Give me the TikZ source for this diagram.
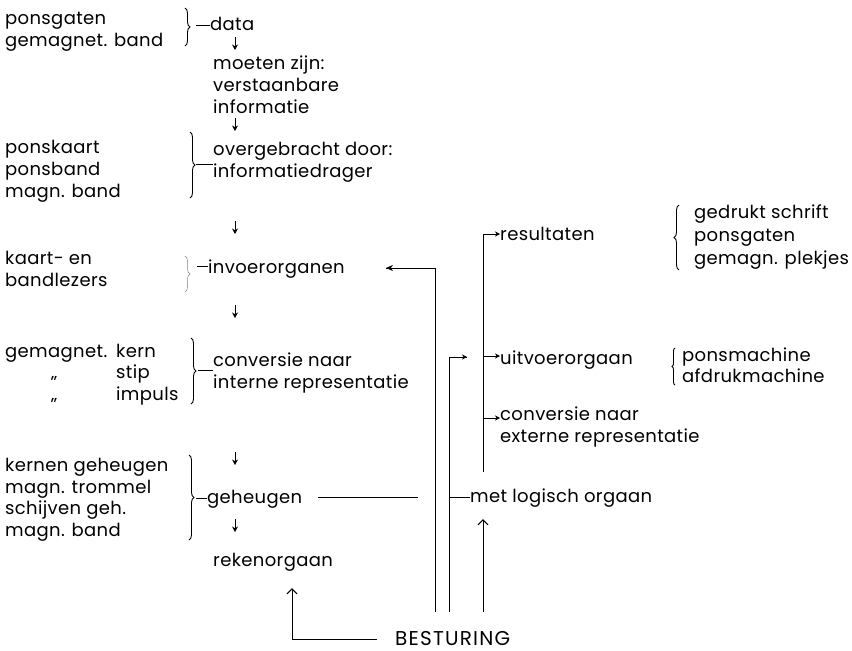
\documentclass[tikz,border=0pt]{standalone}
\usepackage{fontspec}
\setmainfont{Poppins}[LetterSpace=2]
\newfontfamily\capsfont{Poppins}[LetterSpace=6]
\usetikzlibrary{arrows.meta,decorations.pathreplacing}
\begin{document}
\begin{tikzpicture}[x=1pt,y=-1pt,
  txt/.style={anchor=base west, inner sep=0pt, font=\fontsize{18}{22}\selectfont},
  ln/.style={line width=0.6pt},
  dn/.style={line width=0.8pt,-{Stealth[length=5.5pt,width=6pt]}},
  rt/.style={line width=0.7pt,-{Stealth[length=5pt,width=5pt]}},
  lt/.style={line width=0.7pt,-{Stealth[length=7pt,width=6pt]}},
  upar/.style={line width=0.6pt,-{Straight Barb[length=5pt,width=10pt,line width=1.1pt]}},
  br/.style={line width=0.9pt, decorate, decoration={brace,amplitude=5pt}},
  brs/.style={line width=0.9pt, decorate, decoration={brace,amplitude=3pt}},
]
\useasboundingbox[fill=white] (0,0) rectangle (852,651);

% ---------- left column
\node[txt] (l1a) at (5,24) {ponsgaten};
\node[txt] (l1b) at (5,46) {gemagnet. band};
\node[txt] (l2a) at (5,153) {ponskaart};
\node[txt] (l2b) at (5,175) {ponsband};
\node[txt] (l2c) at (5,197) {magn. band};
\node[txt] (l3a) at (5,264) {kaart- en};
\node[txt] (l3b) at (5,286) {bandlezers};
\node[txt] (l4a) at (5,357) {gemagnet.};
\node[txt] (l4k) at (116,357) {kern};
\node[txt] (l4d1) at (51,378) {„};
\node[txt] (l4s) at (116,378) {stip};
\node[txt] (l4d2) at (51,400) {„};
\node[txt] (l4i) at (116,400) {impuls};
\node[txt] (l5a) at (5,471) {kernen geheugen};
\node[txt] (l5b) at (5,493) {magn. trommel};
\node[txt] (l5c) at (5,514) {schijven geh.};
\node[txt] (l5d) at (5,536) {magn. band};

% ---------- middle column
\node[txt] (data) at (210,30) {data};
\node[txt] (m1) at (213,69) {moeten zijn:};
\node[txt] (m2) at (213,91) {verstaanbare};
\node[txt] (m3) at (213,113) {informatie};
\node[txt] (o1) at (213,155) {overgebracht door:};
\node[txt] (o2) at (213,177) {informatiedrager};
\node[txt] (invoer) at (208,273) {invoerorganen};
\node[txt] (c1) at (213,366) {conversie naar};
\node[txt] (c2) at (213,388) {interne representatie};
\node[txt] (geh) at (207,503) {geheugen};
\node[txt] (reken) at (213,566) {rekenorgaan};

% ---------- right column
\node[txt] (res) at (500,240) {resultaten};
\node[txt] (g1) at (694,218) {gedrukt schrift};
\node[txt] (g2) at (694,241) {ponsgaten};
\node[txt] (g3) at (694,264) {gemagn. plekjes};
\node[txt] (uit) at (500,364) {uitvoerorgaan};
\node[txt] (p1) at (682,361) {ponsmachine};
\node[txt] (p2) at (682,382) {afdrukmachine};
\node[txt] (e1) at (500,420) {conversie naar};
\node[txt] (e2) at (500,442) {externe representatie};
\node[txt] (log) at (470,502) {met logisch orgaan};
\node[txt, font=\capsfont\fontsize{20}{22}\selectfont, text depth=0pt] (best) at (395,645) {BESTURING};

% ---------- braces
\draw[br] (185,8) -- (185,46);
\draw[ln] (196,25) -- (data.west |- 0,25);
\draw[br] (190,132) -- (190,198);
\draw[ln] (196,164) -- (o2.west |- 0,164);
\draw[br,line width=0.5pt,gray] (185,256) -- (185,292);
\draw[ln] (197,266) -- (invoer.west |- 0,266);
\draw[br] (191,338) -- (191,404);
\draw[ln] (198,370) -- (c1.west |- 0,370);
\draw[br] (189,455) -- (189,540);
\draw[ln] (196,498) -- (geh.west |- 0,498);
\draw[br] (679,270) -- (679,205);
\draw[brs] (675,385) -- (675,348);

% ---------- down arrows
\coordinate (a1) at (235,37);  \coordinate (a1e) at (235,50);
\coordinate (a2) at (235,118); \coordinate (a2e) at (235,131);
\coordinate (a3) at (235,221); \coordinate (a3e) at (235,234);
\coordinate (a4) at (235,305); \coordinate (a4e) at (235,318);
\coordinate (a5) at (235,452); \coordinate (a5e) at (235,465);
\coordinate (a6) at (235,519); \coordinate (a6e) at (235,532);
\draw[dn] (a1) -- (a1e);
\draw[dn] (a2) -- (a2e);
\draw[dn] (a3) -- (a3e);
\draw[dn] (a4) -- (a4e);
\draw[dn] (a5) -- (a5e);
\draw[dn] (a6) -- (a6e);

% ---------- control lines
\coordinate (s1) at (435,612);
\coordinate (s2) at (449,612);
\coordinate (s3) at (483,612);
\coordinate (iv) at (386,268);
\draw[ln] (s1) -- (435,268) -- (iv);
\draw[lt] (400,268) -- (iv);
\coordinate (k1) at (467,357);
\draw[ln] (s2) -- (449,357) -- (k1);
\draw[rt] (458,357) -- (k1);
\draw[ln] (449,497) -- (log.west |- 0,497);
\draw[upar] (s3) -- (483,519);
\coordinate (t1) at (483,472);
\draw[ln] (483,234) -- (t1);
\draw[rt] (483,234) -- (res.west |- 0,234);
\draw[rt] (483,356) -- (uit.west |- 0,356);
\draw[rt] (483,418) -- (e1.west |- 0,418);
\coordinate (gx) at (418,497);
\draw[ln] (318,497) -- (gx);
\coordinate (r1) at (292,588);
\draw[ln] (377,639) -- (292,639);
\draw[upar] (292,639) -- (r1);
\end{tikzpicture}
\end{document}
